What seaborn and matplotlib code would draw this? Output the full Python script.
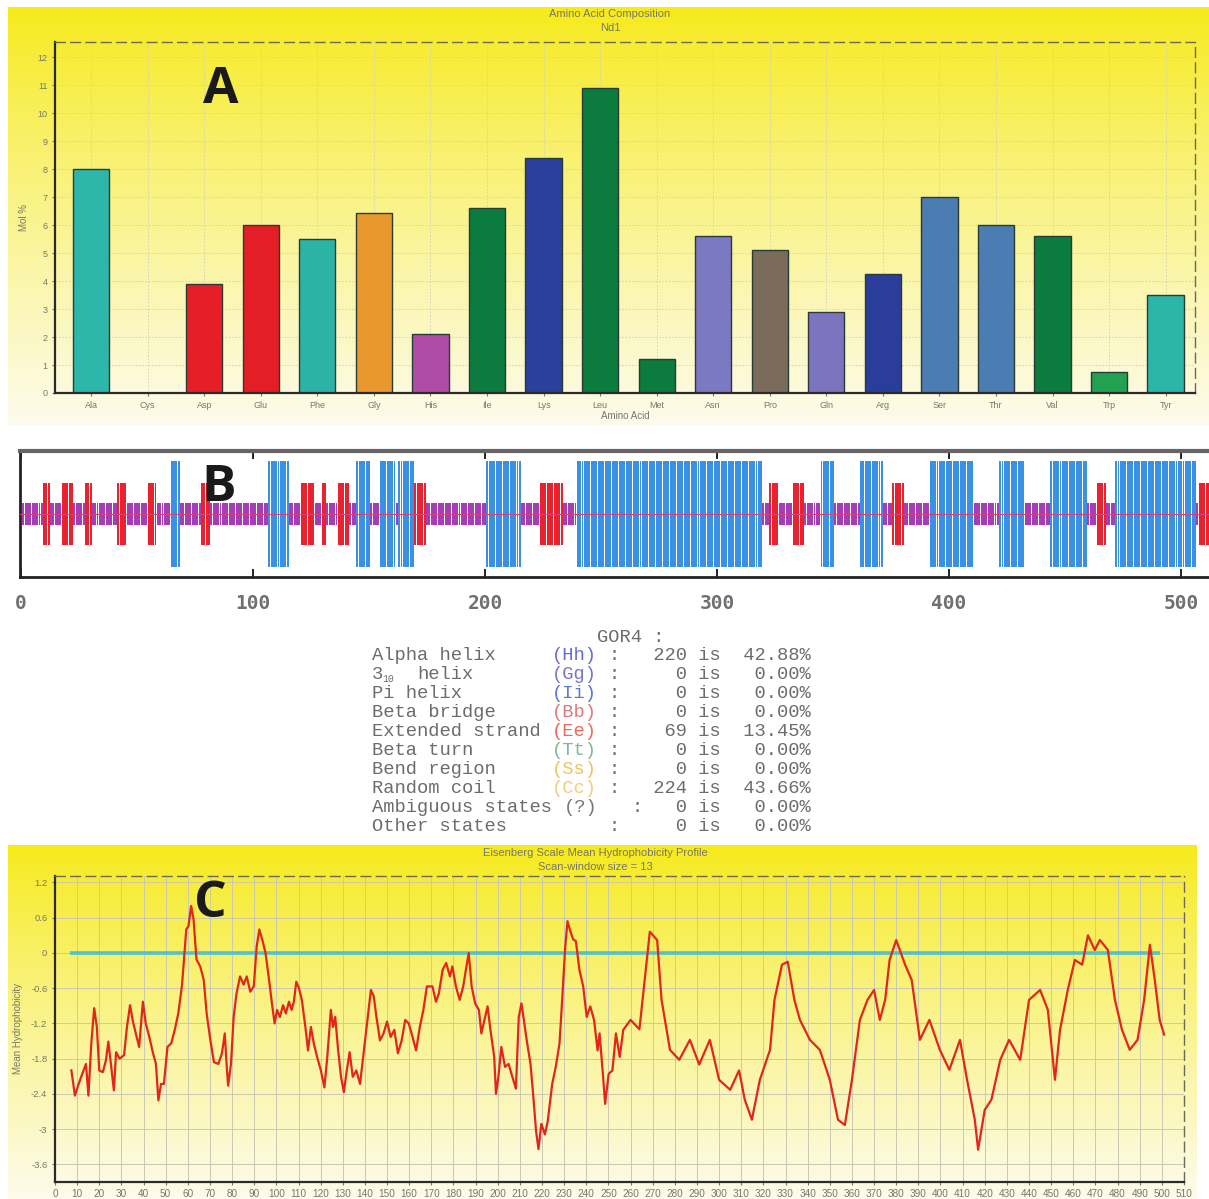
import numpy as np
import pandas as pd
import matplotlib
matplotlib.use("Agg")
import matplotlib.pyplot as plt
import seaborn as sns

# ---------------- data ----------------
amino_acids = ["Ala", "Cys", "Asp", "Glu", "Phe", "Gly", "His", "Ile", "Lys", "Leu",
               "Met", "Asn", "Pro", "Gln", "Arg", "Ser", "Thr", "Val", "Trp", "Tyr"]
mol_percent = [8.0, 0.0, 3.9, 6.0, 5.5, 6.45, 2.1, 6.6, 8.4, 10.9,
               1.2, 5.6, 5.1, 2.9, 4.25, 7.0, 6.0, 5.6, 0.75, 3.5]
bar_colors = ["#2db7aa", "#2db7aa", "#e61f27", "#e31e26", "#2bb3a6", "#e8982c", "#b04ca8",
              "#0b7b40", "#2b3f9c", "#0b7b3e", "#0b7b3e", "#7b79c2", "#7a6b5a", "#7c74be",
              "#2b3d9a", "#4b7cb2", "#4b7cb2", "#0b7b3e", "#22a152", "#2bb6a9"]

seq_length = 512
helix_segments = [(65, 68), (107, 115), (145, 150), (155, 161), (163, 169), (201, 215),
                  (240, 319), (345, 350), (362, 371), (392, 410), (422, 432), (444, 459),
                  (472, 506)]
strand_segments = [(10, 12), (18, 22), (28, 30), (42, 45), (55, 58), (78, 81), (121, 126),
                   (130, 131), (137, 141), (170, 174), (224, 233), (323, 326), (333, 337),
                   (376, 380), (464, 467), (508, 512)]
struct_ticks = [0, 100, 200, 300, 400, 500]

gor4_names = ["Alpha helix", "3", "Pi helix", "Beta bridge", "Extended strand",
              "Beta turn", "Bend region", "Random coil", "Ambiguous states", "Other states"]
gor4_codes = ["(Hh)", "(Gg)", "(Ii)", "(Bb)", "(Ee)", "(Tt)", "(Ss)", "(Cc)", "(?)", ""]
gor4_counts = [220, 0, 0, 0, 69, 0, 0, 224, 0, 0]
gor4_percent = [42.88, 0.00, 0.00, 0.00, 13.45, 0.00, 0.00, 43.66, 0.00, 0.00]
gor4_code_colors = ["#6a6ad0", "#7a74c8", "#5a76d8", "#dc7a7a", "#e86a60",
                    "#7ab898", "#ecc45a", "#f4cc80", "#777777", "#777777"]

hyd_pos = [7.4, 9, 10.7, 12.3, 14, 15.1, 16.4, 17.7, 18.9, 20, 21.6, 23, 24.1, 25.4, 26.6,
           27.6, 29.2, 31.2, 32.5, 33.9, 35.2, 36.9, 38, 39.7, 41, 42.6, 44.3, 45.6, 46.7,
           47.9, 49.2, 50.8, 52.5, 54.1, 55.7, 57.4, 59.3, 60.3, 61.5, 62.6, 63.9, 65.6,
           67.2, 68.5, 70.2, 71.8, 73.8, 75.4, 76.7, 77.5, 78.2, 79.5, 80.7, 82, 83.6, 85.2,
           86.6, 88.2, 89.8, 91.1, 92.3, 93.8, 95.1, 96.7, 98, 99.2, 100.3, 101.6, 103,
           104.3, 105.7, 106.9, 107.9, 109, 110.2, 111.5, 113.1, 114.3, 115.6, 116.9, 118.4,
           120.1, 121.7, 123, 124.6, 125.6, 126.6, 127.9, 129.2, 130.5, 131.7, 133.1, 134.5,
           136.1, 137.8, 139.4, 141, 142.7, 144, 145.2, 146.8, 148.4, 150, 151.6, 153.3,
           154.9, 156.6, 158.2, 159.8, 161.5, 163.1, 164.8, 166.4, 168, 170.5, 172.1, 173.4,
           175.1, 176.7, 178.4, 179.5, 181.1, 182.8, 184.4, 185.6, 186.9, 188.2, 189.8,
           191.5, 192.6, 194, 195.4, 196.7, 198.4, 199.2, 200.3, 201.6, 203.3, 204.9, 206.6,
           208.2, 209.5, 210.7, 211.8, 213.1, 214.8, 216.1, 217.3, 218.4, 219.7, 221.3,
           222.6, 224.6, 226.2, 227.9, 229.2, 230.4, 231.5, 232.8, 234.1, 235.3, 236.9,
           238.6, 240.2, 241.8, 243.5, 245.1, 246, 247.6, 248.5, 250.1, 251.8, 253.4, 255.1,
           256.7, 260, 264, 268.7, 272, 274, 277.8, 282, 286.8, 291, 295.8, 300, 305, 309,
           311.6, 314.8, 318.4, 323, 325, 328.4, 331, 334, 336.5, 341, 345.5, 350, 353.7,
           356.8, 360, 363.6, 367, 370, 372.6, 375, 377, 380, 384, 387, 390.7, 395, 399.7,
           404, 408.8, 412, 415.5, 417, 420, 423, 427, 431, 436, 440, 445, 448.5, 451.7,
           454, 457.5, 460.7, 464, 466.6, 469.7, 472, 475.6, 478.8, 482, 485.5, 489, 492,
           494.6, 496.8, 499, 501]
hyd_val = [-2.0, -2.43, -2.23, -2.06, -1.89, -2.43, -1.54, -0.94, -1.26, -2.0, -2.03, -1.83,
           -1.51, -1.94, -2.34, -1.69, -1.8, -1.74, -1.26, -0.89, -1.17, -1.43, -1.6, -0.83,
           -1.2, -1.43, -1.71, -1.89, -2.51, -2.23, -2.23, -1.6, -1.54, -1.31, -1.03, -0.54,
           0.4, 0.46, 0.8, 0.57, -0.11, -0.23, -0.46, -1.03, -1.49, -1.86, -1.89, -1.71,
           -1.37, -1.89, -2.26, -1.89, -1.09, -0.69, -0.4, -0.54, -0.4, -0.66, -0.57, 0.11,
           0.4, 0.2, 0.0, -0.46, -0.86, -1.2, -0.97, -1.09, -0.89, -1.03, -0.83, -0.97,
           -0.83, -0.49, -0.6, -0.8, -1.26, -1.66, -1.26, -1.54, -1.77, -2.0, -2.29, -1.77,
           -0.97, -1.26, -1.09, -1.66, -2.11, -2.37, -2.03, -1.69, -2.11, -2.0, -2.23, -1.71,
           -1.2, -0.63, -0.74, -1.09, -1.49, -1.37, -1.17, -1.43, -1.31, -1.71, -1.49, -1.14,
           -1.2, -1.43, -1.66, -1.26, -0.97, -0.57, -0.57, -0.83, -0.69, -0.29, -0.17, -0.4,
           -0.23, -0.57, -0.8, -0.57, -0.29, 0.0, -0.57, -0.86, -0.97, -1.37, -1.14, -0.91,
           -1.31, -1.77, -2.4, -2.11, -1.6, -1.94, -1.89, -2.11, -2.31, -1.09, -0.86, -1.14,
           -1.49, -1.89, -2.46, -3.03, -3.34, -2.91, -3.09, -2.86, -2.23, -1.94, -1.54,
           -0.74, 0.06, 0.54, 0.37, 0.23, 0.2, -0.29, -0.57, -1.09, -0.91, -1.14, -1.66,
           -1.37, -2.11, -2.57, -2.06, -2.0, -1.37, -1.77, -1.31, -1.14, -1.3, 0.36, 0.22,
           -0.8, -1.65, -1.82, -1.48, -1.9, -1.48, -2.16, -2.33, -2.0, -2.5, -2.84, -2.16,
           -1.65, -0.8, -0.2, -0.15, -0.8, -1.14, -1.48, -1.65, -2.16, -2.84, -2.93, -2.16,
           -1.14, -0.8, -0.63, -1.14, -0.8, -0.12, 0.22, -0.2, -0.46, -1.48, -1.14, -1.65,
           -1.99, -1.48, -2.16, -2.84, -3.35, -2.67, -2.5, -1.82, -1.48, -1.82, -0.8, -0.63,
           -0.97, -2.16, -1.31, -0.63, -0.12, -0.2, 0.3, 0.05, 0.22, 0.05, -0.8, -1.31,
           -1.65, -1.48, -0.8, 0.14, -0.46, -1.14, -1.39]
hyd_ticks = [1.2, 0.6, 0, -0.6, -1.2, -1.8, -2.4, -3, -3.6]

# ---------------- figure ----------------
W, H = 1209, 1199
fig = plt.figure(figsize=(W / 100, H / 100), dpi=100, facecolor="white")
plt.rcParams["font.family"] = ["Liberation Sans", "DejaVu Sans"]


def fx(px):
    return px / W


def fy(py):
    return 1 - py / H


def gradient_panel(x0, y0, x1, y1):
    bg = fig.add_axes([fx(x0), fy(y1), fx(x1 - x0), (y1 - y0) / H], zorder=0)
    t = np.linspace(0, 1, 300)[:, None, None]
    top = np.array([246, 234, 24]) / 255
    bottom = np.array([253, 251, 236]) / 255
    mix = t ** 0.85
    img = top * (1 - mix) + bottom * mix
    bg.imshow(img, aspect="auto", extent=[0, 1, 0, 1], interpolation="bilinear")
    bg.axis("off")


grey_txt = "#77776a"
dash = (0, (7, 4))

# ---------- A: amino acid composition ----------
gradient_panel(8, 7, 1209, 425)
axA = fig.add_axes([fx(55), fy(393), fx(1195 - 55), (393 - 42) / H], zorder=2)
axA.patch.set_alpha(0)
dfA = pd.DataFrame({"aa": amino_acids, "mol": mol_percent})
sns.barplot(data=dfA, x="aa", y="mol", hue="aa", palette=dict(zip(amino_acids, bar_colors)),
            width=0.64, saturation=1, edgecolor="#2a3a34", linewidth=1.0,
            errorbar=None, legend=False, ax=axA)
axA.set_xlim(-0.64, 19.52)
axA.set_ylim(0, 12.55)
axA.set_yticks(range(0, 13))
axA.grid(True, color="#cfcfbd", lw=0.6, ls=(0, (2, 2)))
axA.set_axisbelow(True)
axA.tick_params(labelsize=6.5, colors=grey_txt, length=2)
axA.set_xlabel("Amino Acid", fontsize=7, color=grey_txt, labelpad=1)
axA.set_ylabel("Mol %", fontsize=7, color=grey_txt, labelpad=6)
for s in ["left", "bottom"]:
    axA.spines[s].set_color("#2a2a2a")
    axA.spines[s].set_linewidth(1.6)
for s in ["top", "right"]:
    axA.spines[s].set_color("#6a6a55")
    axA.spines[s].set_linestyle(dash)
    axA.spines[s].set_linewidth(1.0)
fig.text(fx(610), fy(14), "Amino Acid Composition", ha="center", va="center",
         fontsize=8, color=grey_txt)
fig.text(fx(610), fy(28), "Nd1", ha="center", va="center", fontsize=8, color=grey_txt)
fig.text(fx(221), fy(90), "A", ha="center", va="center", fontsize=37,
         fontweight="bold", family="Open Sans", color="#1a1a1a", zorder=5)

# ---------- B: secondary structure strip ----------
axB = fig.add_axes([fx(20), fy(577), 1 - fx(20), (577 - 451) / H], zorder=2)
state = np.array(["C"] * seq_length)
for a, b in strand_segments:
    state[a - 1:b] = "E"
for a, b in helix_segments:
    state[a - 1:b] = "H"
residues = np.arange(1, seq_length + 1)
half = {"C": 0.175, "E": 0.49, "H": 0.84}
col = {"C": "#a63cb6", "E": "#e8222e", "H": "#3a90e2"}
for k in ["C", "E", "H"]:
    m = state == k
    axB.bar(residues[m], 2 * half[k], bottom=-half[k], width=0.84, color=col[k],
            linewidth=0, zorder=2)
axB.axhline(0, color="#d8407a", lw=0.8, zorder=3)
axB.set_xlim(-0.4, 512)
axB.set_ylim(-1, 1)
axB.set_yticks([])
axB.set_xticks(struct_ticks)
axB.set_xticklabels([str(t) for t in struct_ticks], family="DejaVu Sans Mono",
                    fontweight="bold", fontsize=14, color="#707070")
axB.tick_params(axis="x", top=True, direction="in", length=6, width=1.4,
                color="#222222", pad=12)
axB.spines["right"].set_visible(False)
axB.spines["top"].set_color("#666666")
axB.spines["top"].set_linewidth(3)
axB.spines["bottom"].set_color("#222222")
axB.spines["bottom"].set_linewidth(2)
axB.spines["left"].set_color("#222222")
axB.spines["left"].set_linewidth(2)
fig.text(fx(219), fy(488), "B", ha="center", va="center", fontsize=37,
         fontweight="bold", family="Open Sans", color="#1a1a1a", zorder=5)

# ---------- GOR4 summary ----------
mono = "Liberation Mono"
cw = 11.27
x0 = 372
txt_col = "#6c6c6c"
fs = 13.5
fig.text(fx(x0 + 20 * cw), fy(637), "GOR4 :", family=mono, fontsize=fs,
         color=txt_col, va="center")
for i in range(len(gor4_names)):
    y = fy(656 + i * 18.9)
    name = gor4_names[i]
    if name == "3":
        fig.text(fx(x0), y, "3", family=mono, fontsize=fs, color=txt_col, va="center")
        fig.text(fx(x0 + cw * 0.95), fy(656 + i * 18.9 + 4), "10", family=mono,
                 fontsize=7, color=txt_col, va="center")
        fig.text(fx(x0 + 4 * cw), y, "helix", family=mono, fontsize=fs,
                 color=txt_col, va="center")
    else:
        fig.text(fx(x0), y, name, family=mono, fontsize=fs, color=txt_col, va="center")
    code_col = 17 if gor4_codes[i] == "(?)" else 16
    colon_col = 23 if gor4_codes[i] == "(?)" else 21
    if gor4_codes[i]:
        fig.text(fx(x0 + code_col * cw), y, gor4_codes[i], family=mono, fontsize=fs,
                 color=gor4_code_colors[i], va="center")
    fig.text(fx(x0 + colon_col * cw), y, ":", family=mono, fontsize=fs,
             color=txt_col, va="center")
    rest = f"{gor4_counts[i]:>4d} is {gor4_percent[i]:>6.2f}%"
    fig.text(fx(x0 + 24 * cw), y, rest, family=mono, fontsize=fs,
             color=txt_col, va="center")

# ---------- C: hydrophobicity profile ----------
gradient_panel(8, 845, 1197, 1199)
axC = fig.add_axes([fx(55), fy(1182), fx(1184 - 55), (1182 - 876) / H], zorder=2)
axC.patch.set_alpha(0)
axC.hlines(0, 7, 499, color="#4fc4d0", lw=2.6, zorder=2)
dfC = pd.DataFrame({"pos": hyd_pos, "val": hyd_val})
sns.lineplot(data=dfC, x="pos", y="val", color="#e2261b", lw=1.6, ax=axC, zorder=3)
axC.set_xlim(0, 510)
axC.set_ylim(-3.9, 1.31)
axC.set_xticks(range(0, 511, 10))
axC.set_yticks(hyd_ticks)
axC.set_yticklabels([f"{t:g}" for t in hyd_ticks])
axC.grid(True, color="#c9c9b3", lw=0.7)
axC.set_axisbelow(True)
axC.tick_params(axis="x", labelsize=7.2, colors=grey_txt, length=2, pad=3)
axC.tick_params(axis="y", labelsize=6.8, colors=grey_txt, length=2)
axC.set_xlabel("")
axC.set_ylabel("Mean Hydrophobicity", fontsize=7, color=grey_txt, labelpad=6)
for s in ["left", "bottom"]:
    axC.spines[s].set_color("#2a2a2a")
    axC.spines[s].set_linewidth(1.6)
for s in ["top", "right"]:
    axC.spines[s].set_color("#6a6a55")
    axC.spines[s].set_linestyle(dash)
    axC.spines[s].set_linewidth(1.0)
fig.text(fx(595), fy(853), "Eisenberg Scale Mean Hydrophobicity Profile", ha="center",
         va="center", fontsize=8, color=grey_txt)
fig.text(fx(595), fy(867), "Scan-window size = 13", ha="center", va="center",
         fontsize=8, color=grey_txt)
fig.text(fx(210), fy(904), "C", ha="center", va="center", fontsize=37,
         fontweight="bold", family="Open Sans", color="#1a1a1a", zorder=5)

fig.savefig("out.png", dpi=100, facecolor="white")
